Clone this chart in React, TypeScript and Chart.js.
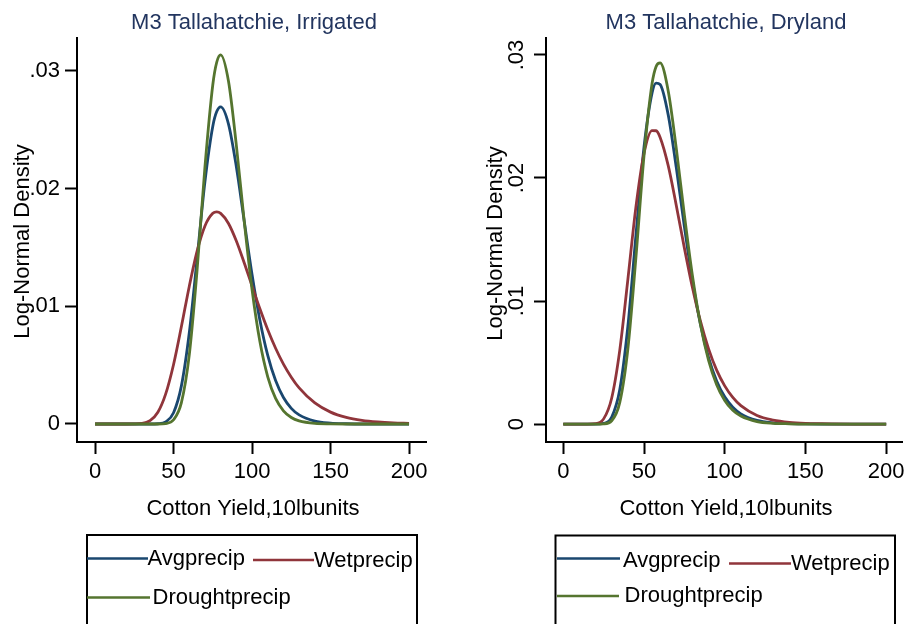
import React, { useEffect, useRef } from 'react';
import { Chart, registerables } from 'chart.js';

Chart.register(...registerables);

const FONT = "'Liberation Sans', Arial, Helvetica, sans-serif";

// ---------- data ----------
const seriesLabels = ['Avgprecip', 'Wetprecip', 'Droughtprecip'];
const seriesColors = ['#1a476f', '#90353b', '#55752f'];
const xTickValues = [0, 50, 100, 150, 200];
const yTickValues = [0, 0.01, 0.02, 0.03];
const xAxisTitle = 'Cotton Yield,10lbunits';
const yAxisTitle = 'Log-Normal Density';

// Irrigated panel
const irrYield = [0, 10, 20, 30, 35, 40, 45, 50, 55, 60, 65, 70, 75, 77.5, 80, 85, 90, 95, 100, 105, 110, 115, 120, 125, 130, 140, 150, 160, 170, 180, 190, 200];
const irrAvg = [0, 0, 0, 0, 0, 0.00002, 0.00018, 0.00096, 0.00324, 0.00773, 0.01407, 0.0206, 0.02531, 0.02655, 0.02695, 0.02549, 0.02186, 0.01725, 0.0127, 0.00882, 0.00583, 0.00369, 0.00225, 0.00133, 0.00077, 0.00024, 0.00007, 0.00002, 0, 0, 0, 0];
const irrWet = [0, 0, 0, 0.00005, 0.00028, 0.001, 0.00256, 0.00506, 0.00828, 0.01169, 0.01469, 0.01683, 0.0179, 0.01803, 0.0179, 0.01704, 0.01555, 0.0137, 0.01173, 0.00979, 0.00801, 0.00644, 0.00509, 0.00398, 0.00307, 0.00179, 0.00101, 0.00056, 0.00031, 0.00017, 0.00009, 0.00005];
const irrDrought = [0, 0, 0, 0, 0, 0, 0.00004, 0.00036, 0.00182, 0.00585, 0.01309, 0.02185, 0.02883, 0.03074, 0.03137, 0.02912, 0.02368, 0.01724, 0.01143, 0.007, 0.00401, 0.00217, 0.00112, 0.00055, 0.00026, 0.00005, 0.00001, 0, 0, 0, 0, 0];

// Dryland panel
const dryYield = [0, 10, 15, 20, 25, 30, 35, 40, 45, 50, 55, 57.5, 60, 65, 70, 75, 80, 85, 90, 95, 100, 105, 110, 120, 130, 140, 150, 160, 180, 200];
const dryAvg = [0, 0, 0, 0, 0.00005, 0.00057, 0.0028, 0.00793, 0.01533, 0.0225, 0.02692, 0.02772, 0.0276, 0.02513, 0.02084, 0.01606, 0.01167, 0.00809, 0.0054, 0.0035, 0.00221, 0.00137, 0.00083, 0.0003, 0.0001, 0.00003, 0.00001, 0, 0, 0];
const dryWet = [0, 0, 0, 0.00003, 0.00042, 0.00212, 0.00601, 0.01174, 0.01765, 0.02199, 0.02385, 0.02384, 0.02329, 0.021, 0.01777, 0.01432, 0.0111, 0.00834, 0.00611, 0.00438, 0.0031, 0.00216, 0.00149, 0.00069, 0.00032, 0.00014, 0.00006, 0.00003, 0, 0];
const dryDrought = [0, 0, 0, 0, 0.00002, 0.00027, 0.00176, 0.0061, 0.01354, 0.0218, 0.02768, 0.02907, 0.02935, 0.02708, 0.0224, 0.017, 0.01205, 0.00807, 0.00518, 0.0032, 0.00192, 0.00112, 0.00065, 0.0002, 0.00006, 0.00002, 0, 0, 0, 0];

// ---------- layout ----------
type LegendItemPos = { x0: number; x1: number; y: number; tx: number; ty: number };
type PanelCfg = {
  left: number;
  width: number;
  title: string;
  titleX: number;
  xs: number[];
  series: number[][];
  xMin: number;
  xMax: number;
  yMin: number;
  yMax: number;
  area: { left: number; right: number; top: number; bottom: number };
  rotatedY: boolean;
  yTickBaseX: number;
  yTitleBaseX: number;
  yTitleY: number;
  xTitleX: number;
  legendBox: { x0: number; x1: number; y0: number };
  legendItems: LegendItemPos[];
};

const H = 624;

const panels: PanelCfg[] = [
  {
    left: 0,
    width: 453,
    title: 'M3 Tallahatchie, Irrigated',
    titleX: 254,
    xs: irrYield,
    series: [irrAvg, irrWet, irrDrought],
    xMin: -11.5,
    xMax: 210.8,
    yMin: -0.00153,
    yMax: 0.0328,
    area: { left: 77, right: 426, top: 38, bottom: 442 },
    rotatedY: false,
    yTickBaseX: 0,
    yTitleBaseX: 29,
    yTitleY: 241.5,
    xTitleX: 253,
    legendBox: { x0: 87, x1: 417, y0: 535 },
    legendItems: [
      { x0: 87, x1: 148, y: 558.5, tx: 147.5, ty: 565 },
      { x0: 253, x1: 314, y: 560, tx: 314, ty: 566.5 },
      { x0: 87, x1: 150, y: 597.5, tx: 152.5, ty: 604 },
    ],
  },
  {
    left: 453,
    width: 454,
    title: 'M3 Tallahatchie, Dryland',
    titleX: 273,
    xs: dryYield,
    series: [dryAvg, dryWet, dryDrought],
    xMin: -10.7,
    xMax: 209.8,
    yMin: -0.00146,
    yMax: 0.03138,
    area: { left: 93, right: 449, top: 38, bottom: 442 },
    rotatedY: true,
    yTickBaseX: 70,
    yTitleBaseX: 49,
    yTitleY: 243.5,
    xTitleX: 273,
    legendBox: { x0: 102.5, x1: 442, y0: 535.5 },
    legendItems: [
      { x0: 104, x1: 167, y: 558.5, tx: 170, ty: 567 },
      { x0: 276, x1: 338, y: 563.5, tx: 338, ty: 570 },
      { x0: 104, x1: 166, y: 596, tx: 171.5, ty: 601.5 },
    ],
  },
];

const fmtY = (v: number) => (v === 0 ? '0' : '.0' + Math.round(v * 100));

function Panel({ cfg }: { cfg: PanelCfg }) {
  const ref = useRef<HTMLCanvasElement | null>(null);

  useEffect(() => {
    const canvas = ref.current;
    if (!canvas) return;

    const decor = {
      id: 'decor',
      afterDraw(chart: any) {
        const ctx = chart.ctx as CanvasRenderingContext2D;
        ctx.save();
        // Title
        ctx.fillStyle = '#22355f';
        ctx.font = `22px ${FONT}`;
        ctx.textAlign = 'center';
        ctx.textBaseline = 'alphabetic';
        ctx.fillText(cfg.title, cfg.titleX, 28.5);

        // x axis title
        ctx.fillStyle = '#000';
        ctx.fillText(xAxisTitle, cfg.xTitleX, 515);

        // y axis title (rotated)
        ctx.save();
        ctx.translate(cfg.yTitleBaseX, cfg.yTitleY);
        ctx.rotate(-Math.PI / 2);
        ctx.fillText(yAxisTitle, 0, 0);
        ctx.restore();

        // rotated y tick labels
        if (cfg.rotatedY) {
          const ys = chart.scales.y;
          yTickValues.forEach((v) => {
            const py = ys.getPixelForValue(v);
            ctx.save();
            ctx.translate(cfg.yTickBaseX, py);
            ctx.rotate(-Math.PI / 2);
            ctx.textAlign = 'center';
            ctx.fillText(fmtY(v), 0, 0);
            ctx.restore();
          });
        }

        // legend box
        const lb = cfg.legendBox;
        ctx.strokeStyle = '#000';
        ctx.lineWidth = 2;
        ctx.beginPath();
        ctx.moveTo(lb.x0, H + 10);
        ctx.lineTo(lb.x0, lb.y0);
        ctx.lineTo(lb.x1, lb.y0);
        ctx.lineTo(lb.x1, H + 10);
        ctx.stroke();

        ctx.textAlign = 'left';
        cfg.legendItems.forEach((it, i) => {
          ctx.strokeStyle = seriesColors[i];
          ctx.lineWidth = 2.5;
          ctx.beginPath();
          ctx.moveTo(it.x0, it.y);
          ctx.lineTo(it.x1, it.y);
          ctx.stroke();
          ctx.fillStyle = '#000';
          ctx.fillText(seriesLabels[i], it.tx, it.ty);
        });
        ctx.restore();
      },
    };

    const a = cfg.area;
    const chart = new Chart(canvas, {
      type: 'line',
      data: {
        datasets: cfg.series.map((vals, i) => ({
          label: seriesLabels[i],
          data: cfg.xs.map((x, j) => ({ x, y: vals[j] })),
          borderColor: seriesColors[i],
          backgroundColor: seriesColors[i],
          borderWidth: 2.8,
          pointRadius: 0,
          fill: false,
          cubicInterpolationMode: 'monotone',
          order: 3 - i,
        })),
      },
      options: {
        responsive: false,
        animation: false,
        devicePixelRatio: 1,
        layout: { padding: { left: 0, right: cfg.width - a.right, top: a.top, bottom: 0 } },
        plugins: {
          legend: { display: false },
          title: { display: false },
          tooltip: { enabled: false },
        },
        scales: {
          x: {
            type: 'linear',
            min: cfg.xMin,
            max: cfg.xMax,
            afterBuildTicks: (s: any) => {
              s.ticks = xTickValues.map((v) => ({ value: v }));
            },
            afterFit: (s: any) => {
              s.height = H - a.bottom;
              s.paddingLeft = 0;
              s.paddingRight = 0;
            },
            grid: {
              display: true,
              drawOnChartArea: false,
              drawTicks: true,
              tickLength: 12,
              tickWidth: 2,
              tickColor: '#000',
            },
            border: { display: true, color: '#000', width: 2 },
            ticks: {
              color: '#000',
              font: { family: FONT, size: 22 },
              padding: 5,
              maxRotation: 0,
              minRotation: 0,
              autoSkip: false,
              callback: (v: any) => String(v),
            },
          },
          y: {
            type: 'linear',
            min: cfg.yMin,
            max: cfg.yMax,
            afterBuildTicks: (s: any) => {
              s.ticks = yTickValues.map((v) => ({ value: v }));
            },
            afterFit: (s: any) => {
              s.width = a.left;
              s.paddingTop = 0;
              s.paddingBottom = 0;
            },
            grid: {
              display: true,
              drawOnChartArea: false,
              drawTicks: true,
              tickLength: 12,
              tickWidth: 2,
              tickColor: '#000',
            },
            border: { display: true, color: '#000', width: 2 },
            ticks: {
              display: !cfg.rotatedY,
              color: '#000',
              font: { family: FONT, size: 22 },
              padding: 5,
              autoSkip: false,
              callback: (v: any) => fmtY(Number(v)),
            },
          },
        },
      },
      plugins: [decor],
    } as any);

    return () => chart.destroy();
  }, [cfg]);

  return (
    <canvas
      ref={ref}
      width={cfg.width}
      height={H}
      style={{ position: 'absolute', left: cfg.left, top: 0, width: cfg.width, height: H, display: 'block' }}
    />
  );
}

export default function App() {
  return (
    <div style={{ position: 'absolute', left: 0, top: 0, width: 907, height: H, background: '#fff', overflow: 'hidden' }}>
      {panels.map((p, i) => (
        <Panel key={i} cfg={p} />
      ))}
    </div>
  );
}
